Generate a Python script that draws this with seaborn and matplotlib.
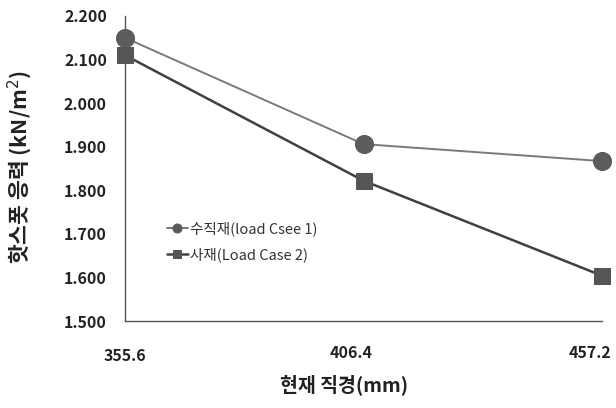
import matplotlib
matplotlib.use("Agg")
import matplotlib.pyplot as plt
import seaborn as sns
import pandas as pd

# Member diameters (mm) and hot-spot stress (kN/m²) per load case
diameters = ["355.6", "406.4", "457.2"]
vertical_stress = [2.150, 1.906, 1.867]
diagonal_stress = [2.110, 1.822, 1.604]
series_names = ["수직재(load Csee 1)", "사재(Load Case 2)"]
y_ticks = [1.5, 1.6, 1.7, 1.8, 1.9, 2.0, 2.1, 2.2]

sns.set_theme(style="white")
plt.rcParams["font.family"] = ["Noto Sans CJK KR", "DejaVu Sans"]

df = pd.DataFrame({
    "diameter": diameters * 2,
    "stress": vertical_stress + diagonal_stress,
    "series": [series_names[0]] * 3 + [series_names[1]] * 3,
})

fig = plt.figure(figsize=(6.16, 4.08), dpi=100)
ax = fig.add_axes([125 / 616, 1 - 321 / 408, 477 / 616, 305 / 408])

styles = {
    series_names[0]: dict(marker="o", color="#7a7a7a", mfc="#5c5c5c", mec="#5c5c5c", ms=13, lw=1.4),
    series_names[1]: dict(marker="s", color="#404040", mfc="#555555", mec="#555555", ms=12, lw=1.8),
}
for name in series_names:
    st = styles[name]
    sub = df[df["series"] == name]
    sns.lineplot(data=sub, x="diameter", y="stress", ax=ax, sort=False,
                 color=st["color"], linewidth=st["lw"], marker=st["marker"],
                 markersize=st["ms"], markerfacecolor=st["mfc"],
                 markeredgecolor=st["mec"], label=name, zorder=3, clip_on=False)

ax.set_xlim(0, 2)
ax.set_ylim(1.5, 2.2)
ax.set_yticks(y_ticks)
ax.set_yticklabels([f"{v:.3f}" for v in y_ticks])
# category labels sit slightly left of the 2nd and 3rd points
label_shift = 12 / 238.5
ax.set_xticks([0, 1 - label_shift, 2 - label_shift])
ax.set_xticklabels(diameters)
ax.tick_params(axis="both", length=0, labelsize=11.5, colors="#222222")
ax.tick_params(axis="x", pad=17)
ax.tick_params(axis="y", pad=13)
for lbl in ax.get_xticklabels() + ax.get_yticklabels():
    lbl.set_fontweight("bold")
ax.get_xticklabels()[0].set_y(-0.012)

for side in ["top", "right"]:
    ax.spines[side].set_visible(False)
for side in ["left", "bottom"]:
    ax.spines[side].set_color("#555555")
    ax.spines[side].set_linewidth(1.0)

ax.set_xlabel("")
ax.set_ylabel("")
fig.text(20 / 616, 1 - 167 / 408, "핫스폿 응력 (kN/m$^2$)", rotation=90,
         ha="center", va="center", fontsize=15.5, fontweight="bold", color="#222222")
fig.text(344 / 616, 1 - 385 / 408, "현재 직경(mm)", ha="center", va="center",
         fontsize=14, fontweight="bold", color="#222222")

leg = ax.legend(loc="upper left", bbox_to_anchor=(0.076, 0.345), frameon=False,
                fontsize=10.5, handlelength=1.4, handletextpad=0.2,
                labelspacing=0.75, borderaxespad=0, markerscale=0.5)
for t in leg.get_texts():
    t.set_color("#333333")

fig.savefig("out.png", dpi=100)
